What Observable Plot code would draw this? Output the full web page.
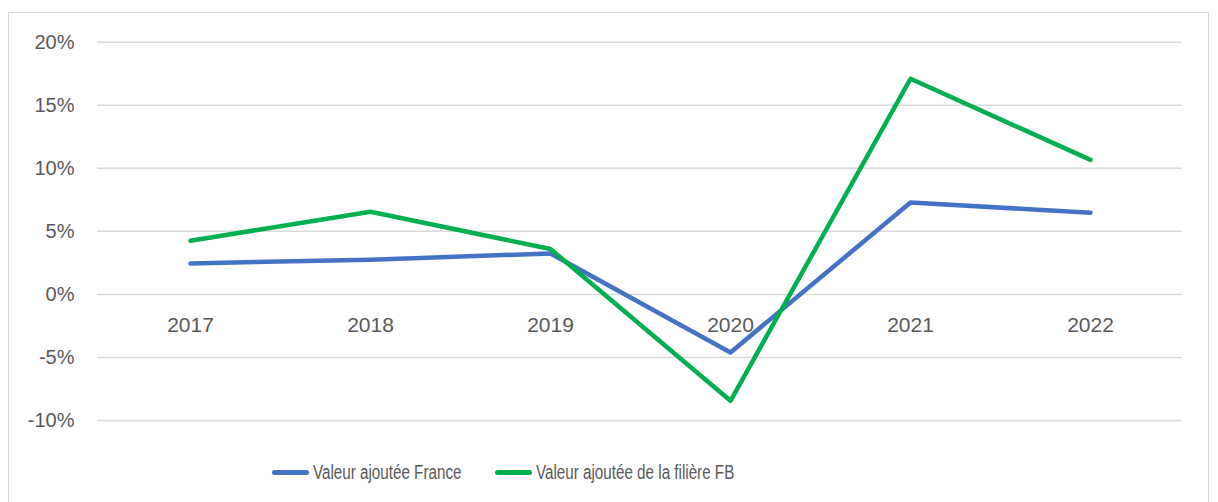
<!DOCTYPE html>
<html>
<head>
<meta charset="utf-8">
<script src="https://cdn.jsdelivr.net/npm/d3@7"></script>
<script src="https://cdn.jsdelivr.net/npm/@observablehq/plot@0.6"></script>
<style>
  html, body { margin: 0; padding: 0; background: #fff; overflow: hidden; }
  #wrap { position: relative; width: 1218px; height: 502px; }
  #frame { position: absolute; left: 8px; top: 12px; width: 1201px; height: 500px; border: 1px solid #d9d9d9; box-sizing: border-box; pointer-events: none; }
  #chart { position: absolute; left: 0; top: 0; }
  .item { position: absolute; top: 459px; display: flex; align-items: center; height: 26px; }
  .sw { width: 37px; height: 5px; border-radius: 3px; margin-right: 4px; flex: none; }
  .lab { display: inline-block; font-family: "Liberation Sans", Arial, sans-serif; font-size: 20px; color: #595959; white-space: nowrap; transform: scaleX(0.76); transform-origin: left center; }
</style>
</head>
<body>
<div id="wrap">
  <div id="frame"></div>
  <div id="chart"></div>
  <div id="legend"></div>
</div>
<script>
const years = ["2017", "2018", "2019", "2020", "2021", "2022"];
const franceValues = [0.0246, 0.0275, 0.0325, -0.046, 0.0728, 0.0648];
const filiereValues = [0.0426, 0.0656, 0.036, -0.0844, 0.171, 0.1067];
const yTicks = [-0.10, -0.05, 0, 0.05, 0.10, 0.15, 0.20];
const seriesNames = ["Valeur ajoutée France", "Valeur ajoutée de la filière FB"];
const seriesColors = ["#4472C4", "#00B050"];
const legendLeft = [272, 495];

const rows = [];
[franceValues, filiereValues].forEach((vals, s) => {
  years.forEach((yr, i) => rows.push({ year: yr, value: vals[i], series: seriesNames[s] }));
});

const pct = d => `${Math.round(d * 100)}%`;

const chart = Plot.plot({
  width: 1218,
  height: 502,
  marginLeft: 97,
  marginRight: 36,
  marginTop: 41.7,
  marginBottom: 82,
  style: { fontFamily: "'Liberation Sans', Arial, sans-serif", background: "transparent" },
  x: { type: "point", domain: years, padding: 0.5, axis: null },
  y: { domain: [-0.10, 0.20], axis: null },
  color: { domain: seriesNames, range: seriesColors },
  marks: [
    Plot.ruleY(yTicks, { stroke: "#d9d9d9", strokeWidth: 1.5 }),
    Plot.axisY(yTicks, { tickSize: 0, tickPadding: 23, tickFormat: pct, fontSize: 20, fill: "#595959", label: null }),
    Plot.text(years, { x: d => d, y: () => 0, dy: 31, fontSize: 21, fill: "#595959" }),
    Plot.line(rows, { x: "year", y: "value", z: "series", stroke: "series", strokeWidth: 4.5, strokeLinecap: "round", strokeLinejoin: "round" })
  ]
});
document.getElementById("chart").appendChild(chart);

const legend = document.getElementById("legend");
seriesNames.forEach((name, i) => {
  const item = document.createElement("div");
  item.className = "item";
  item.style.left = legendLeft[i] + "px";
  const sw = document.createElement("div");
  sw.className = "sw";
  sw.style.background = seriesColors[i];
  const lab = document.createElement("span");
  lab.className = "lab";
  lab.textContent = name;
  item.appendChild(sw);
  item.appendChild(lab);
  legend.appendChild(item);
});
</script>
</body>
</html>
